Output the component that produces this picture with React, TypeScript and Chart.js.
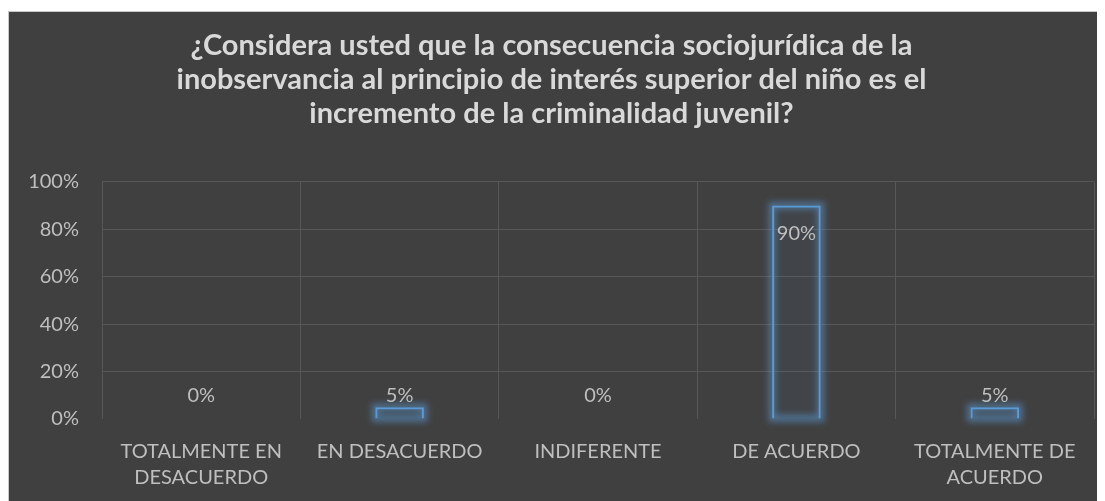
import React, { useEffect, useRef } from "react";
import { Chart, registerables } from "chart.js";

Chart.register(...registerables);

const titleLines = [
  "¿Considera usted que la consecuencia sociojurídica de la",
  "inobservancia al principio de interés superior del niño es el",
  "incremento de la criminalidad juvenil?",
];
const categories: string[][] = [
  ["TOTALMENTE EN", "DESACUERDO"],
  ["EN DESACUERDO"],
  ["INDIFERENTE"],
  ["DE ACUERDO"],
  ["TOTALMENTE DE", "ACUERDO"],
];
const values = [0, 5, 0, 90, 5];
const yTicks = [0, 20, 40, 60, 80, 100];

const FONT = "Lato, 'Open Sans', sans-serif";

const glowPlugin = {
  id: "glow",
  beforeDatasetsDraw(chart: any) {
    const ctx = chart.ctx;
    const meta = chart.getDatasetMeta(0);
    ctx.save();
    ctx.filter = "blur(3px)";
    ctx.strokeStyle = "rgba(91,155,213,0.55)";
    ctx.lineWidth = 7;
    meta.data.forEach((bar: any, i: number) => {
      if (!values[i]) return;
      const { x, y, width, base } = bar.getProps(["x", "y", "width", "base"], true);
      ctx.strokeRect(x - width / 2, y, width, base - y);
    });
    ctx.restore();
  },
};

const labelPlugin = {
  id: "valLabels",
  afterDatasetsDraw(chart: any) {
    const ctx = chart.ctx;
    const meta = chart.getDatasetMeta(0);
    const yScale = chart.scales.y;
    ctx.save();
    ctx.font = `20px ${FONT}`;
    ctx.fillStyle = "#bfbfbf";
    ctx.textAlign = "center";
    ctx.textBaseline = "middle";
    meta.data.forEach((bar: any, i: number) => {
      const v = values[i];
      let y: number;
      if (v >= 50) {
        y = bar.y + 28;
      } else {
        y = Math.min(bar.y, yScale.getPixelForValue(5)) - 12;
      }
      ctx.fillText(v + "%", bar.x, y);
    });
    ctx.restore();
  },
};

export default function App() {
  const ref = useRef<HTMLCanvasElement>(null);
  useEffect(() => {
    if (!ref.current) return;
    const chart = new Chart(ref.current, {
      type: "bar",
      data: {
        labels: categories,
        datasets: [
          {
            data: values,
            backgroundColor: "rgba(91,155,213,0.06)",
            borderColor: "#5b9bd5",
            borderWidth: 2,
            barPercentage: 0.245,
            categoryPercentage: 1,
          },
        ],
      },
      options: {
        animation: false,
        responsive: false,
        maintainAspectRatio: false,
        layout: { padding: { left: 0, right: 11, top: 0, bottom: 0 } },
        plugins: {
          legend: { display: false },
          tooltip: { enabled: false },
          title: {
            display: true,
            text: titleLines,
            color: "#d9d9d9",
            font: { family: FONT, size: 29, weight: "bold", lineHeight: 1.17 },
            padding: { top: 17, bottom: 51 },
          },
        },
        scales: {
          x: {
            grid: { color: "#575757", drawTicks: false, offset: true },
            border: { display: false },
            ticks: {
              color: "#bfbfbf",
              font: { family: FONT, size: 20, lineHeight: 1.3 },
              padding: 20,
              maxRotation: 0,
              autoSkip: false,
            },
            afterFit: (s: any) => {
              s.height = 82;
            },
          },
          y: {
            min: 0,
            max: 100,
            grid: {
              color: (c: any) => (c.tick && c.tick.value === 0 ? "rgba(0,0,0,0)" : "#575757"),
              drawTicks: false,
            },
            border: { display: false },
            afterBuildTicks: (s: any) => {
              s.ticks = yTicks.map((v) => ({ value: v }));
            },
            ticks: {
              color: "#bfbfbf",
              font: { family: FONT, size: 20 },
              padding: 23,
              callback: (v: any) => v + "%",
            },
            afterFit: (s: any) => {
              s.width = 93;
            },
          },
        },
      },
      plugins: [glowPlugin, labelPlugin],
    });
    return () => chart.destroy();
  }, []);
  return (
    <div
      style={{
        marginTop: 3,
        width: 1097,
        height: 490,
        background: "#404040",
        borderTop: "1px solid #c8c8c8",
        borderLeft: "1px solid #c8c8c8",
        boxSizing: "border-box",
        overflow: "hidden",
      }}
    >
      <canvas ref={ref} width={1096} height={489} style={{ display: "block" }} />
    </div>
  );
}
